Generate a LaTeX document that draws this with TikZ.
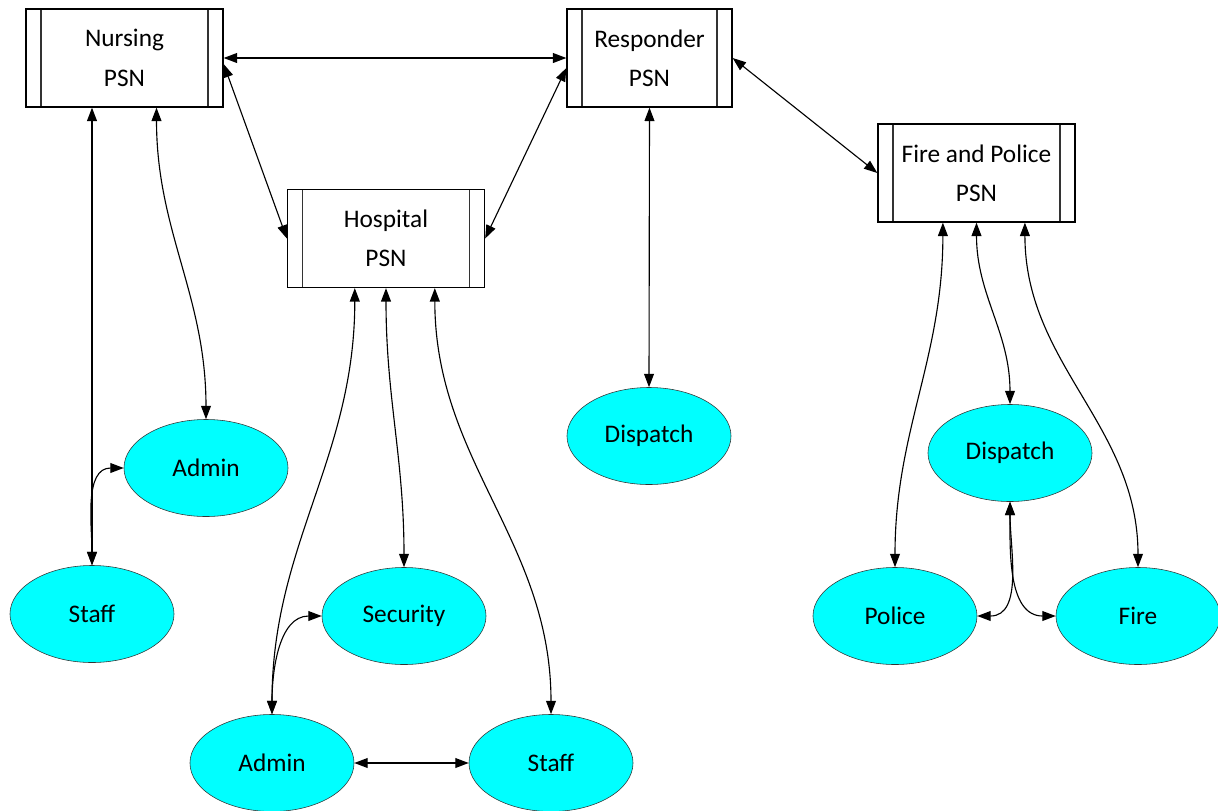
\documentclass[tikz,border=0pt]{standalone}
\usepackage{fontspec}
\setmainfont{Carlito}
\usetikzlibrary{arrows.meta,shapes.geometric}
\definecolor{usercyan}{RGB}{0,255,255}

\tikzset{
  psn/.style={draw, line width=0.9pt, minimum width=4.925cm, minimum height=2.45cm,
    inner sep=0pt, align=center, font=\fontsize{18}{28}\selectfont,
    path picture={
      \draw[black!80] ([xshift=0.375cm]path picture bounding box.north west) -- ([xshift=0.375cm]path picture bounding box.south west);
      \draw[black!80] ([xshift=-0.375cm]path picture bounding box.north east) -- ([xshift=-0.375cm]path picture bounding box.south east);
    }},
  user/.style={ellipse, draw=black!80, fill=usercyan, minimum width=4.1cm, minimum height=2.425cm,
    inner sep=0pt, font=\fontsize{18}{22}\selectfont},
  link/.style={{Triangle[length=9.5pt,width=7pt]}-{Triangle[length=9.5pt,width=7pt]}, line width=0.8pt}
}

\begin{document}
\begin{tikzpicture}[x=0.025cm, y=-0.025cm]
\useasboundingbox (0,0) rectangle (1218,810);

% 四个 PSN 方框
\node[psn] (nursing) at (124.5,58) {Nursing\\PSN};
\node[psn, minimum width=4.125cm] (responder) at (649.5,58) {Responder\\PSN};
\node[psn] (hospital) at (386,238.5) {Hospital\\PSN};
\node[psn] (firepolice) at (976.5,173) {Fire and Police\\PSN};

% 椭圆节点
\node[user] (nadmin) at (206,468) {Admin};
\node[user] (nstaff) at (92,614) {Staff};
\node[user] (security) at (404,616) {Security};
\node[user] (hadmin) at (272,763) {Admin};
\node[user] (hstaff) at (551,763) {Staff};
\node[user] (rdispatch) at (649,436) {Dispatch};
\node[user] (fdispatch) at (1010,453) {Dispatch};
\node[user] (police) at (895,616) {Police};
\node[user] (fire) at (1138,616) {Fire};

% PSN 之间的连接
\draw[link] (nursing.east) -- (responder.west);
\draw[link] ([yshift=-0.15cm]nursing.east) -- (hospital.west);
\draw[link] ([yshift=-0.25cm]responder.west) -- (hospital.east);
\draw[link] (responder.east) -- (firepolice.west);

% Nursing
\draw[link] (nursing.south -| nstaff.north) -- (nstaff.north);
\draw[link] ([xshift=0.8cm]nursing.south) to[out=-90, in=90] (nadmin.north);
\draw[link] (nstaff.north) to[out=90, in=180] (nadmin.west);

% Hospital
\foreach \dx/\target in {-0.78/hadmin, 0/security, 1.22/hstaff} {
    \draw[link] ([xshift=\dx cm]hospital.south) to[out=-90, in=90] (\target.north);
}
\draw[link] (hadmin.north) to[out=90, in=180] (security.west);
\draw[link] (hadmin.east) -- (hstaff.west);

% Responder
\draw[link] (responder.south) -- (rdispatch.north);

% Fire and Police
\foreach \dx/\target in {-0.84/police, 0/fdispatch, 1.21/fire} {
    \draw[link] ([xshift=\dx cm]firepolice.south) to[out=-90, in=90] (\target.north);
}
\draw[link] (fdispatch.south) to[out=-90, in=0] (police.east);
\draw[link] (fdispatch.south) to[out=-90, in=180] (fire.west);

\end{tikzpicture}
\end{document}
